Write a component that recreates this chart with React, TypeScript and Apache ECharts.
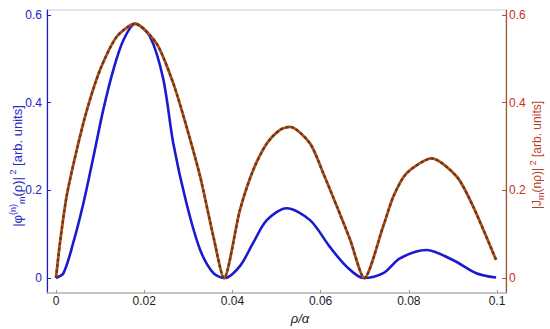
import React, { useEffect, useRef } from "react";
import * as echarts from "echarts";

// |phi|^2 (blue, solid)
const rhoBlue = [0, 0.0017, 0.0039, 0.0062, 0.0085, 0.0107, 0.013, 0.0153, 0.018, 0.0213, 0.0243, 0.0266, 0.0296, 0.0327, 0.0357, 0.0383, 0.0417, 0.0447, 0.0478, 0.0523, 0.0576, 0.0621, 0.0659, 0.0697, 0.0742, 0.078, 0.084, 0.09, 0.0953, 0.0998];
const phiSq = [0, 0.011, 0.08, 0.17, 0.277, 0.383, 0.475, 0.543, 0.58, 0.551, 0.455, 0.307, 0.17, 0.064, 0.011, 0, 0.027, 0.08, 0.132, 0.159, 0.132, 0.071, 0.026, 0, 0.011, 0.045, 0.064, 0.041, 0.011, 0.001];

// |J_m(n rho)|^2 (red, dashed)
const rhoRed = [0, 0.0009, 0.0024, 0.0047, 0.007, 0.01, 0.0138, 0.0179, 0.0228, 0.0266, 0.0296, 0.0327, 0.0357, 0.0381, 0.0417, 0.0447, 0.0478, 0.0508, 0.0531, 0.0576, 0.0606, 0.0637, 0.0667, 0.0699, 0.0742, 0.0765, 0.0795, 0.0852, 0.0909, 0.0946, 0.0998];
const besselSq = [0, 0.08, 0.186, 0.292, 0.383, 0.475, 0.551, 0.58, 0.535, 0.444, 0.345, 0.231, 0.094, 0, 0.155, 0.246, 0.307, 0.338, 0.345, 0.307, 0.239, 0.163, 0.087, 0, 0.118, 0.186, 0.239, 0.273, 0.231, 0.163, 0.041];

const xTicks = [0, 0.02, 0.04, 0.06, 0.08, 0.1];
const yTicks = [0, 0.2, 0.4, 0.6];

const FONT = "Liberation Sans, Arial, sans-serif";
const BLUE = "#1a1ad0";
const RED = "#d0401c";
const BROWN = "#a0552d";

export default function App() {
  const ref = useRef<HTMLDivElement>(null);
  useEffect(() => {
    if (!ref.current) return;
    const chart = echarts.init(ref.current, undefined, { renderer: "svg" });
    const fmt = (v: number) => String(+(+v).toFixed(2));
    const blueData = rhoBlue.map((x, i) => [x, phiSq[i]]);
    const redData = rhoRed.map((x, i) => [x, besselSq[i]]);
    chart.setOption({
      animation: false,
      backgroundColor: "#fff",
      grid: { left: 47, right: 44, top: 10, bottom: 36, show: true, borderColor: "#cccccc", borderWidth: 1 },
      xAxis: {
        type: "value",
        min: -0.00204,
        max: 0.10204,
        splitLine: { show: false },
        axisLine: { onZero: false, lineStyle: { color: "#bbbbbb", width: 1.5 } },
        axisTick: { show: true, inside: true, length: 3, customValues: xTicks, lineStyle: { color: "#999" } },
        axisLabel: { customValues: xTicks, formatter: fmt, color: "#222", fontSize: 12, fontFamily: FONT, margin: 2 },
      },
      yAxis: [
        {
          type: "value",
          min: -0.0342,
          max: 0.6114,
          position: "left",
          splitLine: { show: false },
          axisLine: { show: true, onZero: false, lineStyle: { color: BLUE, width: 1.2 } },
          axisTick: { show: true, inside: true, length: 4, customValues: yTicks, lineStyle: { color: BLUE } },
          axisLabel: { customValues: yTicks, formatter: fmt, color: "#2222bb", fontSize: 12, fontFamily: FONT, margin: 5 },
        },
        {
          type: "value",
          min: -0.0342,
          max: 0.6114,
          position: "right",
          splitLine: { show: false },
          axisLine: { show: true, onZero: false, lineStyle: { color: BROWN, width: 1.2 } },
          axisTick: { show: true, inside: true, length: 4, customValues: yTicks, lineStyle: { color: BROWN } },
          axisLabel: { customValues: yTicks, formatter: fmt, color: "#c8301a", fontSize: 12, fontFamily: FONT, margin: 3 },
        },
      ],
      series: [
        {
          type: "line",
          data: blueData,
          smooth: 0.3,
          showSymbol: false,
          lineStyle: { color: BLUE, width: 2.6 },
        },
        {
          type: "line",
          yAxisIndex: 1,
          data: redData,
          smooth: 0.25,
          showSymbol: false,
          lineStyle: { color: RED, width: 2.8 },
        },
        {
          type: "line",
          yAxisIndex: 1,
          data: redData,
          smooth: 0.25,
          showSymbol: false,
          lineStyle: { color: "#3f4a16", width: 2.2, type: [3, 2.5] },
        },
      ],
      graphic: [
        {
          type: "text",
          x: 17,
          y: 166,
          rotation: Math.PI / 2,
          style: {
            text: "|φ{sup|(n)}{sub|m}(ρ)|{sup| 2} [arb. units]",
            fill: "#2a2ac0",
            font: `13px ${FONT}`,
            align: "center",
            verticalAlign: "middle",
            rich: {
              sup: { fontSize: 9, fill: "#2a2ac0", verticalAlign: "top", lineHeight: 18, fontFamily: FONT },
              sub: { fontSize: 9, fill: "#2a2ac0", verticalAlign: "bottom", lineHeight: 18, fontFamily: FONT },
            },
          },
        },
        {
          type: "text",
          x: 537,
          y: 155,
          rotation: Math.PI / 2,
          style: {
            text: "|J{sub|m}(nρ)|{sup| 2} [arb. units]",
            fill: "#b8402a",
            font: `12px ${FONT}`,
            align: "center",
            verticalAlign: "middle",
            rich: {
              sup: { fontSize: 9, fill: "#b8402a", verticalAlign: "top", lineHeight: 17, fontFamily: FONT },
              sub: { fontSize: 9, fill: "#b8402a", verticalAlign: "bottom", lineHeight: 17, fontFamily: FONT },
            },
          },
        },
        {
          type: "text",
          x: 300,
          y: 318,
          style: {
            text: "ρ/α",
            fill: "#222",
            font: `italic 13px ${FONT}`,
            align: "center",
            verticalAlign: "middle",
          },
        },
      ],
    });
    return () => chart.dispose();
  }, []);
  return <div ref={ref} style={{ width: 550, height: 329, position: "absolute", left: 0, top: 0 }} />;
}
